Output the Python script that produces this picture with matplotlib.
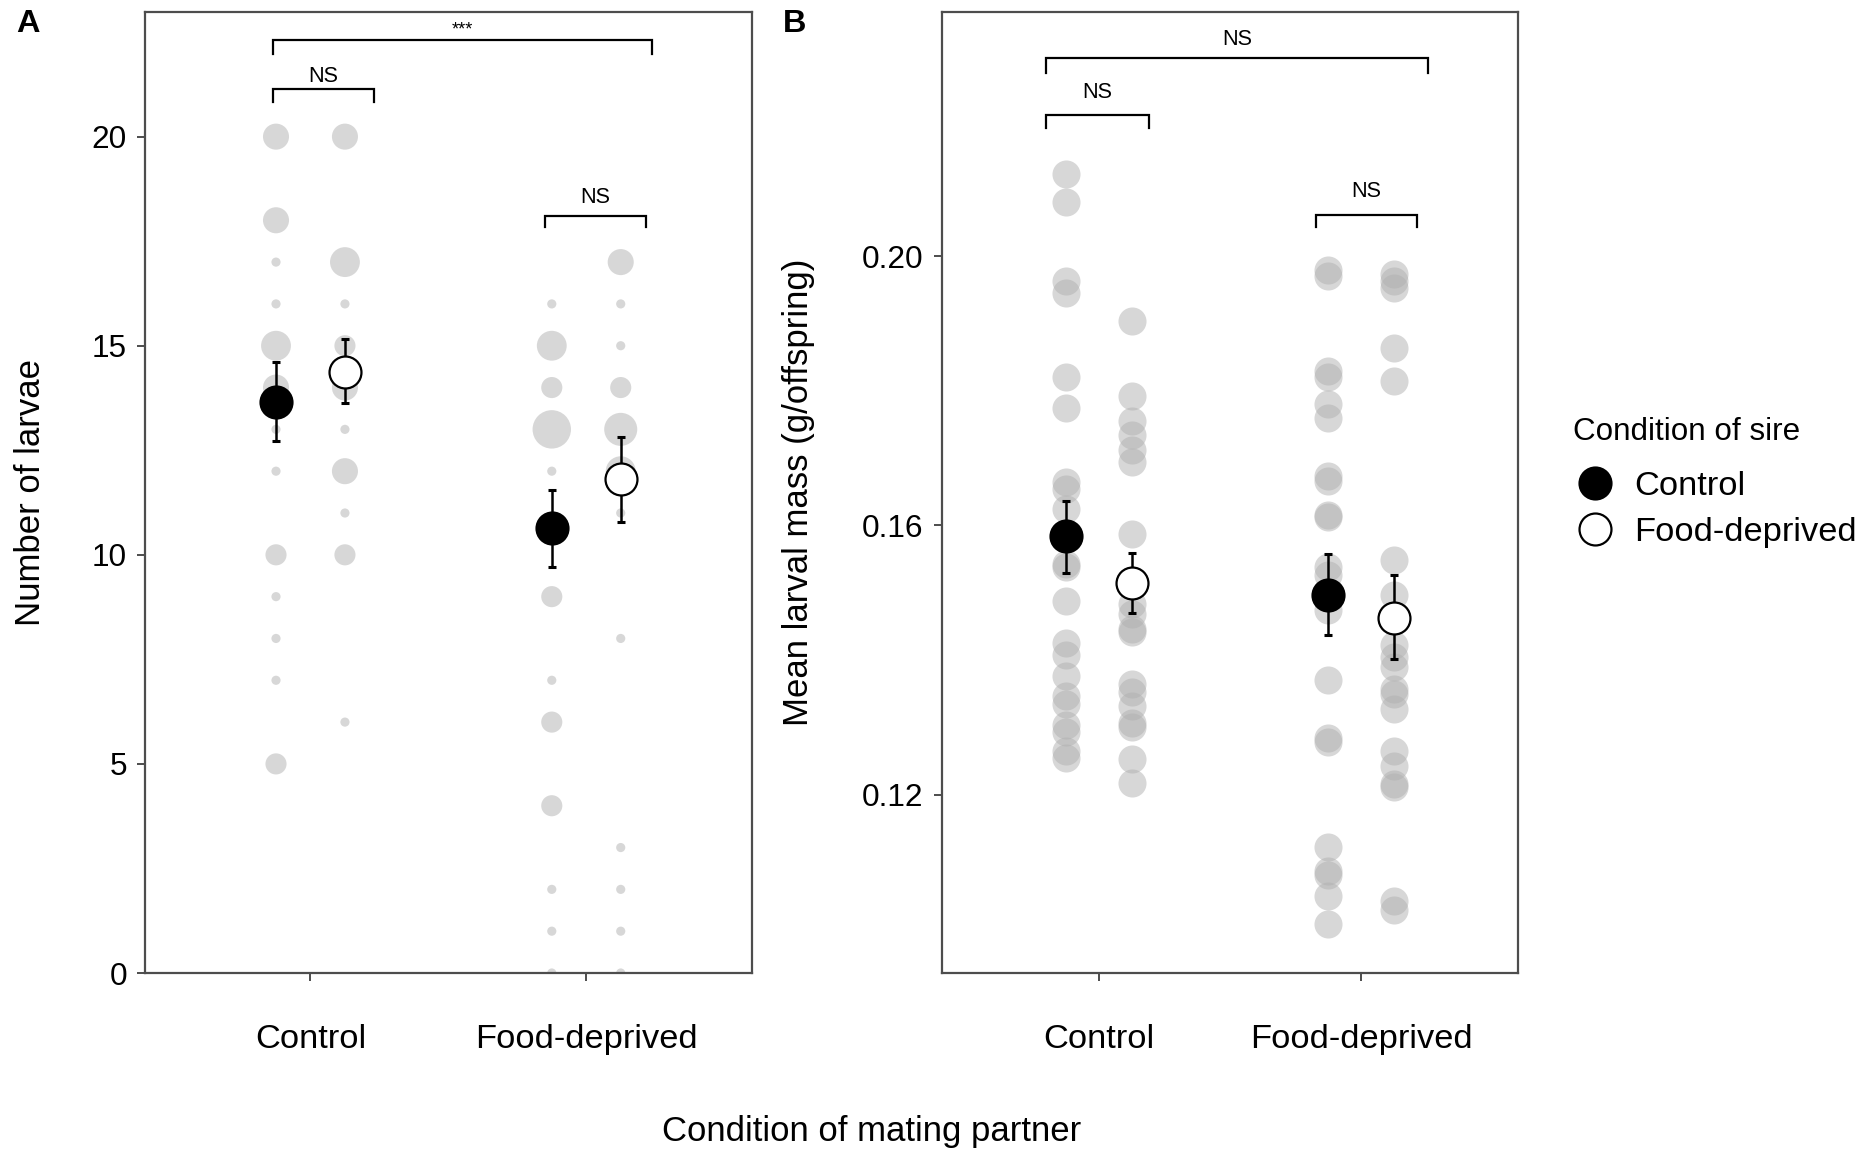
# Libraries import
import numpy as np
import matplotlib
matplotlib.use('Agg')
import matplotlib.pyplot as plt
from matplotlib.lines import Line2D

plt.rcParams['font.family'] = ['Liberation Sans', 'DejaVu Sans']

# Categories
partners = ['Control', 'Food-deprived']
sires = ['Control', 'Food-deprived']

# Panel A: number of larvae (value, count of broods) per partner x sire group
a_cc_vals = [20, 18, 17, 16, 15, 14, 13, 12, 10, 9, 8, 7, 5]
a_cc_n = [3, 3, 1, 1, 4, 3, 1, 1, 2, 1, 1, 1, 2]
a_cf_vals = [20, 17, 16, 15, 14, 13, 12, 11, 10, 6]
a_cf_n = [3, 4, 1, 2, 3, 1, 3, 1, 2, 1]
a_fc_vals = [16, 15, 14, 13, 12, 9, 7, 6, 4, 2, 1, 0]
a_fc_n = [1, 4, 2, 7, 1, 2, 1, 2, 2, 1, 1, 1]
a_ff_vals = [17, 16, 15, 14, 13, 12, 11, 8, 3, 2, 1, 0]
a_ff_n = [3, 1, 1, 2, 5, 4, 1, 1, 1, 1, 1, 1]

# Panel A means and error bars (order: CC, CF, FC, FF)
a_mean = [13.65, 14.36, 10.64, 11.82]
a_low = [12.73, 13.62, 9.70, 10.79]
a_high = [14.62, 15.16, 11.56, 12.82]

# Panel B: mean larval mass per brood
b_cc = [0.2122, 0.2080, 0.1963, 0.1945, 0.1821, 0.1774, 0.1664, 0.1654, 0.1625,
        0.1543, 0.1538, 0.1488, 0.1426, 0.1407, 0.1377, 0.1347, 0.1335, 0.1303,
        0.1293, 0.1265, 0.1255]
b_cf = [0.1904, 0.1793, 0.1756, 0.1735, 0.1712, 0.1694, 0.1588, 0.1483, 0.1468,
        0.1446, 0.1441, 0.1365, 0.1352, 0.1332, 0.1307, 0.1300, 0.1253, 0.1218]
b_fc = [0.1979, 0.1970, 0.1829, 0.1821, 0.1780, 0.1759, 0.1673, 0.1666, 0.1615,
        0.1613, 0.1538, 0.1526, 0.1474, 0.1370, 0.1284, 0.1278, 0.1122, 0.1087,
        0.1081, 0.1050, 0.1008]
b_ff = [0.1974, 0.1964, 0.1953, 0.1864, 0.1815, 0.1548, 0.1496, 0.1422, 0.1404,
        0.1389, 0.1357, 0.1350, 0.1327, 0.1265, 0.1243, 0.1216, 0.1211, 0.1042,
        0.1028]

b_mean = [0.1584, 0.1515, 0.1497, 0.1463]
b_low = [0.1529, 0.1470, 0.1438, 0.1401]
b_high = [0.1637, 0.1559, 0.1557, 0.1527]

# Group positions: partner index +/- dodge for sire
dodge = 0.125
group_x = [1 - dodge, 1 + dodge, 2 - dodge, 2 + dodge]
sire_face = ['black', 'white', 'black', 'white']

grey = '#b0b0b0'
spine_color = '#4d4d4d'

fig = plt.figure(figsize=(9.38, 5.78), dpi=200)
axA = fig.add_axes([0.0773, 0.1583, 0.3234, 0.8313])
axB = fig.add_axes([0.5019, 0.1583, 0.3074, 0.8313])


def count_size(n):
    # marker diameter (pt) grows with sqrt of the count, like geom_count
    d = 3.3 + 4.3 * np.sqrt(np.asarray(n) - 1)
    return d ** 2


def draw_means(ax, means, lows, highs):
    for x, m, lo, hi, fc in zip(group_x, means, lows, highs, sire_face):
        ax.errorbar([x], [m], yerr=[[m - lo], [hi - m]], fmt='none', ecolor='black',
                    elinewidth=0.9, capsize=1.4, capthick=1.1, zorder=3)
        ax.plot([x], [m], 'o', ms=11.5, mfc=fc, mec='black', mew=0.8, zorder=4)


def bracket(ax, x0, x1, y, leg, label, ty, fs):
    ax.plot([x0, x0, x1, x1], [y - leg, y, y, y - leg], color='black', lw=0.8,
            solid_joinstyle='miter', zorder=5)
    ax.text((x0 + x1) / 2, ty, label, ha='center', va='center', fontsize=fs)


# Panel A
for x, vals, n in zip(group_x, [a_cc_vals, a_cf_vals, a_fc_vals, a_ff_vals],
                      [a_cc_n, a_cf_n, a_fc_n, a_ff_n]):
    axA.scatter(np.full(len(vals), x), vals, s=count_size(n), color=grey,
                alpha=0.5, linewidths=0, zorder=2)
draw_means(axA, a_mean, a_low, a_high)
bracket(axA, 0.864, 2.24, 22.32, 0.35, '***', 22.55, 6.5)
bracket(axA, 0.864, 1.229, 21.14, 0.31, 'NS', 21.44, 7.8)
bracket(axA, 1.849, 2.218, 18.11, 0.28, 'NS', 18.55, 7.8)
axA.set_ylim(0, 22.98)
axA.set_yticks([0, 5, 10, 15, 20])

# Panel B
for x, vals in zip(group_x, [b_cc, b_cf, b_fc, b_ff]):
    axB.scatter(np.full(len(vals), x), vals, s=102, color=grey, alpha=0.5,
                linewidths=0, zorder=2)
draw_means(axB, b_mean, b_low, b_high)
bracket(axB, 0.8, 2.255, 0.2295, 0.0023, 'NS', 0.2322, 7.8)
bracket(axB, 0.8, 1.191, 0.2210, 0.0020, 'NS', 0.2244, 7.8)
bracket(axB, 1.827, 2.214, 0.2062, 0.0019, 'NS', 0.2097, 7.8)
axB.set_ylim(0.0935, 0.2363)
axB.set_yticks([0.12, 0.16, 0.20])
axB.set_yticklabels(['0.12', '0.16', '0.20'])

for ax in (axA, axB):
    ax.set_xlim(0.4, 2.6)
    ax.set_xticks([1, 2])
    ax.set_xticklabels(partners)
    ax.tick_params(axis='x', labelsize=12.4, pad=15.5, length=3, width=0.7,
                   color=spine_color)
    ax.tick_params(axis='y', labelsize=11.4, pad=3.5, length=3, width=0.7,
                   color=spine_color)
    for sp in ax.spines.values():
        sp.set_color(spine_color)
        sp.set_linewidth(0.8)

# Axis titles and panel letters
fig.text(0.016, 0.574, 'Number of larvae', rotation=90, ha='center', va='center',
         fontsize=12.5)
fig.text(0.4254, 0.574, 'Mean larval mass (g/offspring)', rotation=90, ha='center',
         va='center', fontsize=12.5)
fig.text(0.4648, 0.0216, 'Condition of mating partner', ha='center', va='center',
         fontsize=12.5)
fig.text(0.015, 0.979, 'A', ha='center', va='center', fontsize=11.7, fontweight='bold')
fig.text(0.4235, 0.979, 'B', ha='center', va='center', fontsize=11.7, fontweight='bold')

# Legend
fig.text(0.8385, 0.6267, 'Condition of sire', ha='left', va='center', fontsize=11.3)
handles = [Line2D([], [], ls='none', marker='o', ms=11.5, mfc=fc, mec='black', mew=0.8)
           for fc in ['black', 'white']]
fig.legend(handles, sires, loc='center left', bbox_to_anchor=(0.8408, 0.5593),
           frameon=False, fontsize=12.4, handlelength=1.0, handletextpad=0.65,
           labelspacing=0.42, borderpad=0, borderaxespad=0)

plt.savefig('out.png', dpi=200)
